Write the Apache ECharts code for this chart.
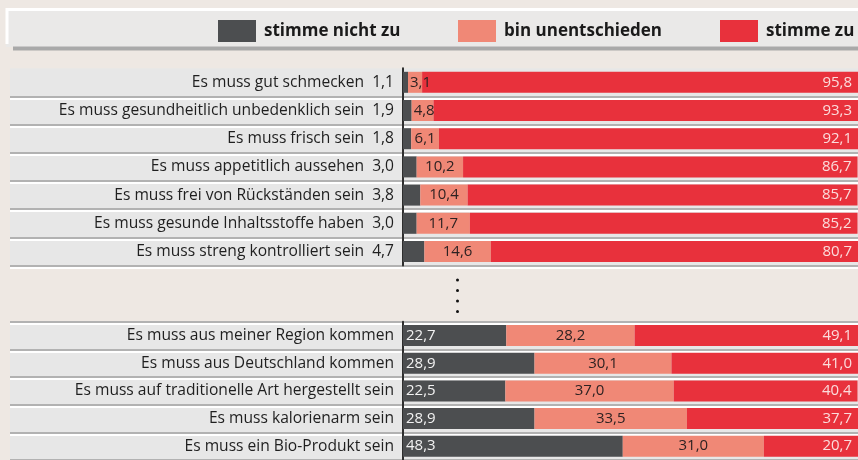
<!DOCTYPE html>
<html><head><meta charset="utf-8">
<script src="https://cdn.jsdelivr.net/npm/echarts@6/dist/echarts.min.js"></script>
<style>html,body{margin:0;padding:0;background:#eee8e3}#c{width:858px;height:460px}</style>
</head><body><div id="c"></div>
<script>
// ---- data ----
const seriesNames = ['stimme nicht zu', 'bin unentschieden', 'stimme zu'];
const categoriesTop = [
  'Es muss gut schmecken',
  'Es muss gesundheitlich unbedenklich sein',
  'Es muss frisch sein',
  'Es muss appetitlich aussehen',
  'Es muss frei von Rückständen sein',
  'Es muss gesunde Inhaltsstoffe haben',
  'Es muss streng kontrolliert sein'
];
const disagreeTop  = [1.1, 1.9, 1.8, 3.0, 3.8, 3.0, 4.7];
const undecidedTop = [3.1, 4.8, 6.1, 10.2, 10.4, 11.7, 14.6];
const agreeTop     = [95.8, 93.3, 92.1, 86.7, 85.7, 85.2, 80.7];

const categoriesBottom = [
  'Es muss aus meiner Region kommen',
  'Es muss aus Deutschland kommen',
  'Es muss auf traditionelle Art hergestellt sein',
  'Es muss kalorienarm sein',
  'Es muss ein Bio-Produkt sein'
];
const disagreeBottom  = [22.7, 28.9, 22.5, 28.9, 48.3];
const undecidedBottom = [28.2, 30.1, 37.0, 33.5, 31.0];
const agreeBottom     = [49.1, 41.0, 40.4, 37.7, 20.7];

// ---- styling ----
const FONT = '"Open Sans", sans-serif';
const FS = 15.6;
const COLORS = ['#4c4e50', '#f08876', '#e8313c'];
const fmt = v => v.toFixed(1).replace('.', ',');
const TOP = { top: 68.2, height: 197.4 };
const BOT = { top: 321.8, height: 141.5 };
const LEFT = 403;

const chart = echarts.init(document.getElementById('c'), null, { renderer: 'canvas' });

const bgSplit = (showMin) => ({
  show: true, showMinLine: showMin,
  lineStyle: { color: '#b2b2b2', width: 2, shadowColor: '#ffffff', shadowOffsetY: 2, shadowBlur: 0 }
});

const grids = [
  { left: 10, right: 0, top: TOP.top, height: TOP.height },
  { left: 10, right: 0, top: BOT.top, height: BOT.height },
  { left: LEFT, right: 0, top: TOP.top, height: TOP.height },
  { left: LEFT, right: 0, top: BOT.top, height: BOT.height }
];

const xAxes = grids.map((g, i) => ({ type: 'value', gridIndex: i, min: 0, max: 100, show: false }));

const yAxes = [
  { type: 'category', gridIndex: 0, inverse: true, data: categoriesTop,
    axisLine: { show: false }, axisTick: { show: false }, axisLabel: { show: false },
    splitLine: bgSplit(false), splitArea: { show: true, areaStyle: { color: ['#e7e7e7'] } } },
  { type: 'category', gridIndex: 1, inverse: true, data: categoriesBottom,
    axisLine: { show: false }, axisTick: { show: false }, axisLabel: { show: false },
    splitLine: bgSplit(true), splitArea: { show: true, areaStyle: { color: ['#e7e7e7'] } } },
  { type: 'category', gridIndex: 2, inverse: true, data: categoriesTop,
    axisLine: { show: true, lineStyle: { color: '#2e2e2e', width: 2 } },
    axisTick: { show: false }, splitLine: { show: false },
    axisLabel: {
      margin: 9, color: '#1f1f1f', fontFamily: FONT, fontSize: FS,
      formatter: (val, idx) => '{n|' + val + '}{v|' + fmt(disagreeTop[idx]) + '}',
      rich: {
        n: { fontFamily: FONT, fontSize: FS, color: '#1f1f1f' },
        v: { fontFamily: FONT, fontSize: FS, color: '#1f1f1f', padding: [0, 0, 0, 8] }
      }
    } },
  { type: 'category', gridIndex: 3, inverse: true, data: categoriesBottom,
    axisLine: { show: true, lineStyle: { color: '#2e2e2e', width: 2 } },
    axisTick: { show: false }, splitLine: { show: false },
    axisLabel: { margin: 9, color: '#1f1f1f', fontFamily: FONT, fontSize: FS } }
];

const labelBase = { show: true, fontFamily: FONT, fontSize: 15, formatter: p => fmt(p.value) };

function makeSeries(axisIdx, stack, dis, und, agr, showDarkLabel) {
  return [
    { type: 'bar', name: seriesNames[0], xAxisIndex: axisIdx, yAxisIndex: axisIdx, stack: stack,
      barWidth: 21, data: dis, itemStyle: { color: COLORS[0] },
      label: Object.assign({}, labelBase, { show: showDarkLabel, position: 'insideLeft', distance: 3, color: '#f2f2f2' }) },
    { type: 'bar', name: seriesNames[1], xAxisIndex: axisIdx, yAxisIndex: axisIdx, stack: stack,
      barWidth: 21, itemStyle: { color: COLORS[1] },
      data: und.map(v => v < 6 ? { value: v, label: { position: 'insideLeft', distance: 2 } } : v),
      label: Object.assign({}, labelBase, { position: 'inside', color: '#2e2222' }) },
    { type: 'bar', name: seriesNames[2], xAxisIndex: axisIdx, yAxisIndex: axisIdx, stack: stack,
      barWidth: 21, data: agr, itemStyle: { color: COLORS[2] },
      label: Object.assign({}, labelBase, { position: 'insideRight', distance: 6, color: '#fbdcdc' }) }
  ];
}

const legendLefts = [218, 458, 720];
const legends = seriesNames.map((n, i) => ({
  data: [n], left: legendLefts[i], top: 20, padding: 0, icon: 'rect',
  itemWidth: 38, itemHeight: 22, selectedMode: false,
  textStyle: { fontFamily: FONT, fontSize: 17, fontWeight: 'bold', color: '#1a1a1a', padding: [0, 0, 0, 3] }
}));

const option = {
  animation: false,
  backgroundColor: '#eee8e3',
  color: COLORS,
  legend: legends,
  grid: grids,
  xAxis: xAxes,
  yAxis: yAxes,
  graphic: [
    { type: 'rect', z: -10, shape: { x: 6, y: 9, width: 860, height: 38 }, style: { fill: '#eae9e8' } },
    { type: 'polyline', z: -9, shape: { points: [[7, 44], [7, 9.5], [860, 9.5]] }, style: { stroke: '#ffffff', lineWidth: 3, fill: null } },
    { type: 'line', z: -9, shape: { x1: 13, y1: 48.5, x2: 860, y2: 48.5 }, style: { stroke: '#a9a9a9', lineWidth: 4 } },
    { type: 'circle', shape: { cx: 457.5, cy: 280, r: 1.5 }, style: { fill: '#111' } },
    { type: 'circle', shape: { cx: 457.5, cy: 290.5, r: 1.5 }, style: { fill: '#111' } },
    { type: 'circle', shape: { cx: 457.5, cy: 301, r: 1.5 }, style: { fill: '#111' } },
    { type: 'circle', shape: { cx: 457.5, cy: 311.5, r: 1.5 }, style: { fill: '#111' } }
  ],
  series: [].concat(
    makeSeries(2, 'top', disagreeTop, undecidedTop, agreeTop, false),
    makeSeries(3, 'bottom', disagreeBottom, undecidedBottom, agreeBottom, true)
  )
};
chart.setOption(option);
</script>
</body></html>
